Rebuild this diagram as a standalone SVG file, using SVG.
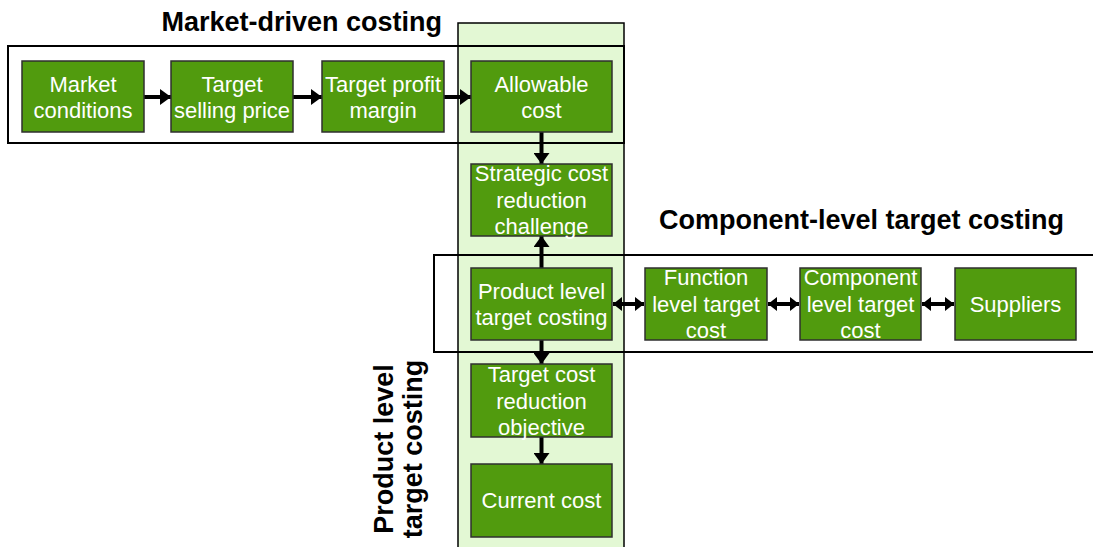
<svg xmlns="http://www.w3.org/2000/svg" width="1093" height="547" viewBox="0 0 1093 547">
  <defs>
    <style>
      .node rect { fill: #519b0e; stroke: #2f2f2f; stroke-width: 1.5; }
      .node text { font-family: "Liberation Sans", Arial, sans-serif; font-size: 22px; fill: #ffffff; text-anchor: middle; }
      .frame { fill: none; stroke: #000000; stroke-width: 2; }
      .column { fill: #e3f8d4; stroke: #000000; stroke-width: 1.5; }
      .title { font-family: "Liberation Sans", Arial, sans-serif; font-size: 27px; font-weight: bold; fill: #000000; }
      .link { stroke: #000000; stroke-width: 4; fill: none; }
      .dlink { stroke: #000000; stroke-width: 4; fill: none; }
    </style>
    <marker id="head" markerUnits="userSpaceOnUse" markerWidth="12" markerHeight="16" refX="11" refY="8" orient="auto">
      <path d="M0,0 L11,8 L0,16 Z" fill="#000000"/>
    </marker>
    <marker id="headSmall" markerUnits="userSpaceOnUse" markerWidth="10" markerHeight="14" refX="9" refY="7" orient="auto-start-reverse">
      <path d="M0,0 L9,7 L0,14 Z" fill="#000000"/>
    </marker>
  </defs>

  <!-- product-level column -->
  <rect class="column" x="458" y="23" width="166" height="530"/>

  <!-- group frames -->
  <rect class="frame" x="8" y="46" width="616" height="97"/>
  <rect class="frame" x="434" y="255" width="670" height="97"/>

  <!-- group titles -->
  <text class="title" x="442" y="31" text-anchor="end">Market-driven costing</text>
  <text class="title" x="1064" y="229" text-anchor="end">Component-level target costing</text>
  <text class="title" transform="translate(393,449) rotate(-90)" text-anchor="middle">Product level</text>
  <text class="title" transform="translate(422,449) rotate(-90)" text-anchor="middle">target costing</text>

  <!-- connectors -->
  <g id="connectors">
    <line class="link" x1="144" y1="97" x2="171" y2="97" marker-end="url(#head)"/>
    <line class="link" x1="293" y1="97" x2="322" y2="97" marker-end="url(#head)"/>
    <line class="link" x1="444" y1="97" x2="471" y2="97" marker-end="url(#head)"/>
    <line class="link" x1="541.5" y1="132" x2="541.5" y2="164" marker-end="url(#head)"/>
    <line class="link" x1="541.5" y1="268" x2="541.5" y2="236" marker-end="url(#head)"/>
    <line class="link" x1="541.5" y1="340" x2="541.5" y2="364" marker-end="url(#head)"/>
    <line class="link" x1="541.5" y1="437" x2="541.5" y2="464" marker-end="url(#head)"/>
    <line class="dlink" x1="613" y1="304" x2="644" y2="304" marker-start="url(#headSmall)" marker-end="url(#headSmall)"/>
    <line class="dlink" x1="768" y1="304" x2="799" y2="304" marker-start="url(#headSmall)" marker-end="url(#headSmall)"/>
    <line class="dlink" x1="922" y1="304" x2="954" y2="304" marker-start="url(#headSmall)" marker-end="url(#headSmall)"/>
  </g>

  <!-- nodes -->
  <g id="market-conditions" class="node">
    <rect x="22" y="61" width="122" height="71"/>
    <text x="83" y="92">Market</text>
    <text x="83" y="118">conditions</text>
  </g>
  <g id="target-selling-price" class="node">
    <rect x="171" y="61" width="122" height="71"/>
    <text x="232" y="92">Target</text>
    <text x="232" y="118">selling price</text>
  </g>
  <g id="target-profit-margin" class="node">
    <rect x="322" y="61" width="122" height="71"/>
    <text x="383" y="92">Target profit</text>
    <text x="383" y="118">margin</text>
  </g>
  <g id="allowable-cost" class="node">
    <rect x="471" y="61" width="141" height="71"/>
    <text x="541.5" y="92">Allowable</text>
    <text x="541.5" y="118">cost</text>
  </g>
  <g id="strategic-cost-reduction-challenge" class="node">
    <rect x="471" y="164" width="141" height="72"/>
    <text x="541.5" y="181">Strategic cost</text>
    <text x="541.5" y="207.5">reduction</text>
    <text x="541.5" y="234">challenge</text>
  </g>
  <g id="product-level-target-costing" class="node">
    <rect x="471" y="268" width="141" height="72"/>
    <text x="541.5" y="299">Product level</text>
    <text x="541.5" y="325">target costing</text>
  </g>
  <g id="function-level-target-cost" class="node">
    <rect x="645" y="268" width="122" height="72"/>
    <text x="706" y="285">Function</text>
    <text x="706" y="311.5">level target</text>
    <text x="706" y="338">cost</text>
  </g>
  <g id="component-level-target-cost" class="node">
    <rect x="800" y="268" width="121" height="72"/>
    <text x="860.5" y="285">Component</text>
    <text x="860.5" y="311.5">level target</text>
    <text x="860.5" y="338">cost</text>
  </g>
  <g id="suppliers" class="node">
    <rect x="955" y="268" width="121" height="72"/>
    <text x="1015.5" y="312">Suppliers</text>
  </g>
  <g id="target-cost-reduction-objective" class="node">
    <rect x="471" y="364" width="141" height="73"/>
    <text x="541.5" y="382">Target cost</text>
    <text x="541.5" y="408.5">reduction</text>
    <text x="541.5" y="435">objective</text>
  </g>
  <g id="current-cost" class="node">
    <rect x="471" y="464" width="141" height="73"/>
    <text x="541.5" y="508">Current cost</text>
  </g>
</svg>
